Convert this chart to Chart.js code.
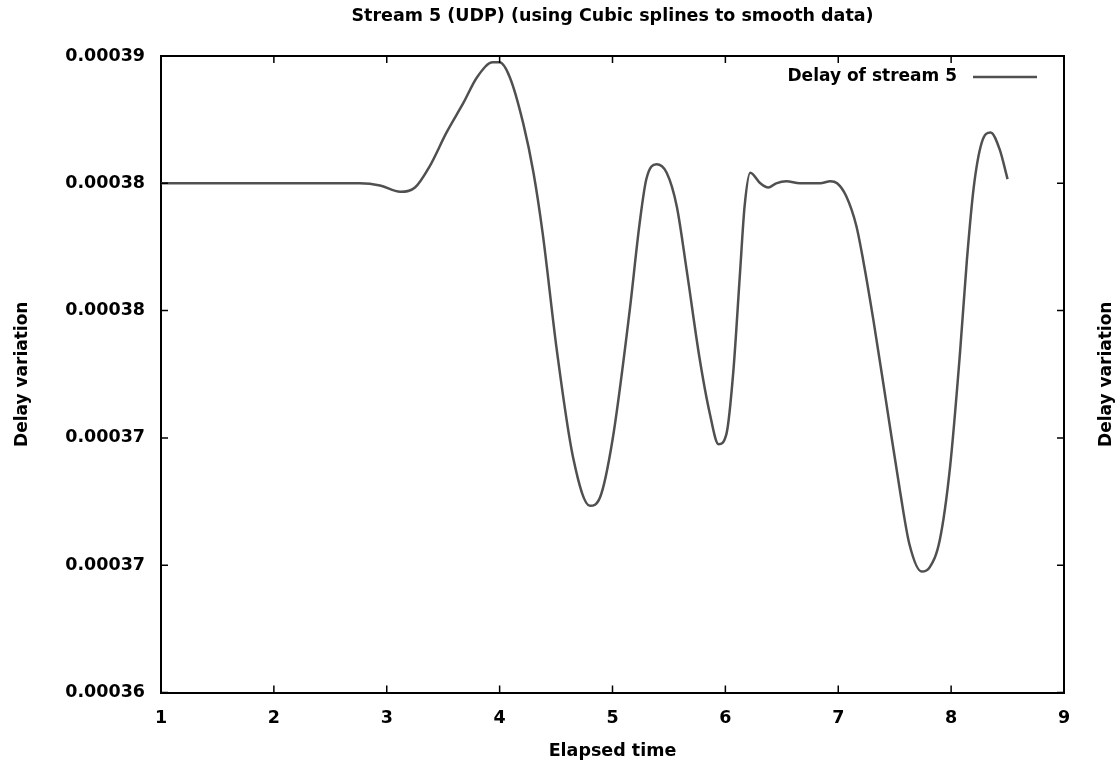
<!DOCTYPE html>
<html>
<head>
<meta charset="utf-8">
<script src="https://cdn.jsdelivr.net/npm/chart.js@4.4.1/dist/chart.umd.min.js"></script>
<style>
    html, body { margin: 0; padding: 0; background: #fff; }
</style>
</head>
<body>
<canvas id="grafico" width="1120" height="770"></canvas>
<script>
const titulo = 'Stream 5 (UDP) (using Cubic splines to smooth data)'
const etiquetaSerie = 'Delay of stream 5'
const tituloX = 'Elapsed time'
const tituloY = 'Delay variation'

const tiempos = [1.0, 2.0, 2.76, 2.94, 3.12, 3.25, 3.38, 3.53, 3.68, 3.80, 3.94, 4.0, 4.09, 4.21, 4.30, 4.38,
    4.51, 4.65, 4.80, 4.89, 5.00, 5.15, 5.24, 5.30, 5.39, 5.48, 5.57, 5.66, 5.77, 5.86, 5.94, 6.01,
    6.07, 6.13, 6.17, 6.22, 6.31, 6.38, 6.45, 6.54, 6.66, 6.84, 6.93, 6.99, 7.07, 7.16, 7.22, 7.31,
    7.43, 7.55, 7.63, 7.74, 7.81, 7.90, 7.99, 8.08, 8.14, 8.20, 8.27, 8.35, 8.43, 8.50]
const retardos = [0.000384, 0.000384, 0.000384, 0.0003839, 0.0003836, 0.0003838, 0.0003848, 0.0003864,
    0.0003878, 0.000389, 0.0003897, 0.0003897, 0.000389, 0.0003868, 0.0003845, 0.0003817,
    0.000376, 0.0003711, 0.0003688, 0.0003692, 0.0003719, 0.0003779, 0.0003821, 0.0003842,
    0.0003849, 0.0003845, 0.0003829, 0.0003798, 0.0003758, 0.0003732, 0.0003717, 0.0003722,
    0.0003751, 0.0003798, 0.0003829, 0.0003845, 0.000384, 0.0003838, 0.000384, 0.0003841,
    0.000384, 0.000384, 0.0003841, 0.000384, 0.0003834, 0.000382, 0.0003804, 0.0003776,
    0.0003735, 0.0003694, 0.000367, 0.0003657, 0.0003659, 0.0003672, 0.0003706, 0.0003761,
    0.0003804, 0.0003838, 0.0003859, 0.0003864, 0.0003856, 0.0003842]

const valoresX = [1, 2, 3, 4, 5, 6, 7, 8, 9]
const valoresY = [0.00036, 0.000366, 0.000372, 0.000378, 0.000384, 0.00039]

const fuente = '"DejaVu Sans", sans-serif'
Chart.defaults.font.family = fuente
Chart.defaults.color = '#000'

// ticks hacia adentro en los cuatro lados, leyenda dentro del area y titulo del eje derecho
const extras = {
    id: 'extras',
    afterDraw(chart) {
        const {ctx, chartArea: a, scales} = chart
        ctx.save()
        ctx.strokeStyle = '#000'
        ctx.lineWidth = 1.5
        ctx.beginPath()
        scales.x.ticks.forEach(t => {
            let px = scales.x.getPixelForValue(t.value)
            ctx.moveTo(px, a.bottom); ctx.lineTo(px, a.bottom - 7)
            ctx.moveTo(px, a.top); ctx.lineTo(px, a.top + 7)
        })
        scales.y.ticks.forEach(t => {
            let py = scales.y.getPixelForValue(t.value)
            ctx.moveTo(a.left, py); ctx.lineTo(a.left + 7, py)
            ctx.moveTo(a.right, py); ctx.lineTo(a.right - 7, py)
        })
        ctx.stroke()

        let ds = chart.data.datasets[0]
        ctx.font = 'bold 17px ' + fuente
        ctx.fillStyle = '#000'
        ctx.textAlign = 'right'
        ctx.textBaseline = 'middle'
        ctx.fillText(ds.label, a.right - 107, a.top + 21)
        ctx.strokeStyle = ds.borderColor
        ctx.lineWidth = ds.borderWidth
        ctx.beginPath()
        ctx.moveTo(a.right - 91, a.top + 21)
        ctx.lineTo(a.right - 27, a.top + 21)
        ctx.stroke()

        ctx.translate(a.right + 43, (a.top + a.bottom) / 2)
        ctx.rotate(-Math.PI / 2)
        ctx.textAlign = 'center'
        ctx.font = 'bold 17px ' + fuente
        ctx.fillText(chart.options.scales.y2.title.text, 0, 0)
        ctx.restore()
    }
}

let grafico = new Chart(document.getElementById('grafico'), {
    type: 'line',
    data: {
        datasets: [{
            label: etiquetaSerie,
            data: tiempos.map((t, i) => ({x: t, y: retardos[i]})),
            borderColor: '#505050',
            borderWidth: 2.5,
            pointRadius: 0,
            cubicInterpolationMode: 'monotone',
            fill: false
        }]
    },
    options: {
        responsive: false,
        animation: false,
        layout: { padding: 0 },
        plugins: {
            legend: { display: false },
            tooltip: { enabled: false }
        },
        scales: {
            x: {
                type: 'linear',
                position: 'bottom',
                min: 1, max: 9,
                afterBuildTicks: s => { s.ticks = valoresX.map(v => ({value: v})) },
                afterFit: s => { s.height = 77.5 },
                grid: { display: false, drawTicks: false },
                border: { display: true, color: '#000', width: 2 },
                ticks: { padding: 15, maxRotation: 0, font: { size: 17.5, weight: 'bold' } },
                title: { display: true, text: tituloX, font: { size: 17.5, weight: 'bold' }, padding: { top: 0, bottom: 8 } }
            },
            x2: {
                type: 'linear',
                position: 'top',
                min: 1, max: 9,
                afterFit: s => { s.height = 56 },
                grid: { display: false, drawTicks: false },
                border: { display: true, color: '#000', width: 2 },
                ticks: { display: false },
                title: { display: true, text: titulo, font: { size: 17.5, weight: 'bold' }, padding: { top: 6, bottom: 0 } }
            },
            y: {
                type: 'linear',
                position: 'left',
                min: 0.00036, max: 0.00039,
                afterBuildTicks: s => { s.ticks = valoresY.map(v => ({value: v})) },
                afterFit: s => { s.width = 161 },
                grid: { display: false, drawTicks: false },
                border: { display: true, color: '#000', width: 2 },
                ticks: { padding: 16, font: { size: 17.5, weight: 'bold' }, callback: v => v.toFixed(5) },
                title: { display: true, text: tituloY, font: { size: 17, weight: 'bold' }, padding: { top: 12, bottom: 0 } }
            },
            y2: {
                type: 'linear',
                position: 'right',
                min: 0.00036, max: 0.00039,
                afterFit: s => { s.width = 56 },
                grid: { display: false, drawTicks: false },
                border: { display: true, color: '#000', width: 2 },
                ticks: { display: false },
                title: { display: false, text: tituloY }
            }
        }
    },
    plugins: [extras]
})
</script>
</body>
</html>
